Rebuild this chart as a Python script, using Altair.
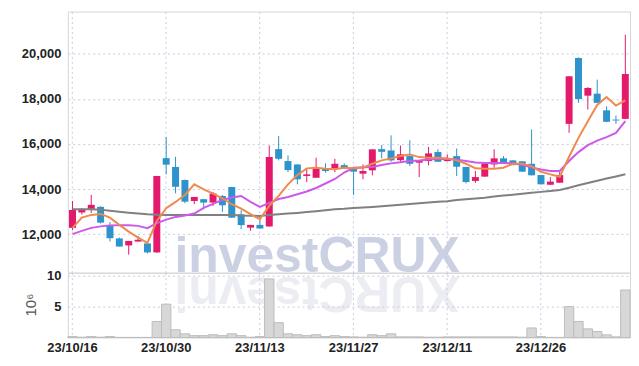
import altair as alt
import pandas as pd

dates = ["23/10/16", "23/10/17", "23/10/18", "23/10/19", "23/10/20", "23/10/23", "23/10/24", "23/10/25", "23/10/26", "23/10/27",
         "23/10/30", "23/10/31", "23/11/01", "23/11/02", "23/11/03", "23/11/06", "23/11/07", "23/11/08", "23/11/09", "23/11/10",
         "23/11/13", "23/11/14", "23/11/15", "23/11/16", "23/11/17", "23/11/20", "23/11/21", "23/11/22", "23/11/23", "23/11/24",
         "23/11/27", "23/11/28", "23/11/29", "23/11/30", "23/12/01", "23/12/04", "23/12/05", "23/12/06", "23/12/07", "23/12/08",
         "23/12/11", "23/12/12", "23/12/13", "23/12/14", "23/12/15", "23/12/18", "23/12/19", "23/12/20", "23/12/21", "23/12/22",
         "23/12/26", "23/12/27", "23/12/28", "24/01/02", "24/01/03", "24/01/04", "24/01/05", "24/01/08", "24/01/09", "24/01/10"]

tick_dates = ["23/10/16", "23/10/30", "23/11/13", "23/11/27", "23/12/11", "23/12/26"]

opens = [12280, 12960, 13120, 13210, 12370, 11810, 11500, 11670, 11590, 11190,
         15370, 14980, 14400, 13470, 13550, 13400, 13690, 14090, 12880, 12290,
         12410, 12340, 15770, 15240, 15090, 14580, 14500, 14920, 14920, 15060,
         14920, 14680, 14830, 15770, 15710, 15280, 15460, 15170, 15240, 15640,
         15240, 15460, 14980, 14360, 14550, 15090, 15360, 15270, 15230, 15120,
         14620, 14190, 14280, 16890, 19810, 18140, 18230, 17490, 17080, 17110]

highs = [13470, 13160, 13740, 13240, 12540, 11850, 11700, 11920, 11620, 14580,
         16310, 15430, 14420, 13650, 13560, 13870, 13740, 14100, 13060, 12410,
         12840, 15930, 16350, 15490, 15100, 14900, 15390, 15140, 15340, 15140,
         14980, 15090, 15760, 15950, 16380, 15930, 16160, 15290, 15870, 15760,
         15540, 15800, 14990, 14800, 15130, 15760, 15460, 15280, 15240, 16640,
         14630, 14530, 14770, 19000, 19840, 18520, 18850, 17670, 17260, 20840]

lows = [12180, 12870, 12940, 12470, 11670, 11450, 11090, 11670, 11140, 11170,
        14650, 13810, 13370, 13330, 13100, 13250, 12990, 12720, 12220, 12150,
        12240, 12330, 15270, 14750, 14210, 14310, 14500, 14720, 14750, 14910,
        13740, 14430, 14610, 15360, 15210, 15210, 15020, 14530, 15050, 15200,
        15230, 14580, 14250, 14270, 14540, 14940, 15110, 15060, 14760, 14600,
        14200, 14180, 14270, 16490, 17820, 17520, 17810, 16970, 16890, 17100]

closes = [13070, 13090, 13300, 12510, 11820, 11450, 11700, 11750, 11190, 14580,
          15080, 14100, 13440, 13650, 13400, 13800, 13280, 12730, 12400, 12410,
          12250, 15420, 15340, 14840, 14430, 14650, 14900, 14800, 15120, 14920,
          14770, 14800, 15760, 15650, 15270, 15540, 15120, 15280, 15580, 15210,
          15360, 14990, 14310, 14530, 15120, 15360, 15120, 15060, 14770, 14610,
          14210, 14330, 14620, 19000, 17990, 18480, 17820, 16980, 17040, 19100]

volumes = [0.15, 0.05, 0.15, 0.05, 0.15, 0.02, 0.02, 0.02, 0.02, 2.6,
           5.4, 1.25, 0.6, 0.3, 0.3, 0.45, 0.3, 0.6, 0.3, 0.05,
           0.15, 9.5, 2.4, 0.6, 0.45, 0.3, 0.45, 0.15, 0.3, 0.15,
           0.1, 0.05, 0.45, 0.3, 0.6, 0.1, 0.1, 0.1, 0.05, 0.05,
           0.1, 0.1, 0.1, 0.1, 0.1, 0.1, 0.1, 0.1, 0.05, 1.55,
           0.15, 0.02, 0.02, 5.0, 2.6, 1.4, 0.97, 0.43, 0.1, 7.7]

ma_short = [12279, 12734, 12853, 12897, 12734, 12411, 12115, 11850, 11616, 12588,
            13149, 13428, 13737, 14210, 13989, 13795, 13591, 13326, 13132, 12884,
            12663, 13251, 13693, 14210, 14621, 14917, 14944, 14900, 14873, 14944,
            14917, 14944, 15121, 15271, 15359, 15461, 15536, 15417, 15386, 15386,
            15359, 15271, 15121, 14917, 14900, 14900, 14944, 15121, 15121, 15019,
            14767, 14652, 14546, 15430, 16270, 17008, 17728, 18082, 17702, 17936]

ma_mid = [12000, 12146, 12279, 12345, 12389, 12398, 12398, 12367, 12265, 12486,
          12645, 12765, 12831, 12911, 13163, 13339, 13516, 13627, 13693, 13428,
          13207, 13384, 13560, 13649, 13768, 13892, 14047, 14246, 14445, 14732,
          14944, 14962, 14975, 15063, 15138, 15183, 15240, 15262, 15306, 15328,
          15342, 15297, 15240, 15174, 15152, 15152, 15152, 15138, 15063, 14962,
          14865, 14798, 14798, 15240, 15638, 15947, 16146, 16301, 16491, 17008]

ma_long = [13105, 13105, 13105, 13087, 13039, 12990, 12950, 12911, 12880, 12862,
           12853, 12853, 12853, 12853, 12853, 12853, 12853, 12853, 12827, 12818,
           12809, 12844, 12884, 12911, 12942, 12981, 13017, 13061, 13101, 13127,
           13163, 13185, 13207, 13238, 13269, 13304, 13339, 13370, 13401, 13437,
           13463, 13516, 13551, 13582, 13618, 13666, 13711, 13750, 13795, 13834,
           13874, 13918, 13958, 14060, 14166, 14268, 14365, 14467, 14559, 14652]

UP = "#e5196b"
DOWN = "#2e93cb"
LABEL_FONT = "Liberation Sans"
LABEL_SIZE = 13
GRID = "#c6cce0"

df = pd.DataFrame({
    "date": dates, "open": opens, "high": highs, "low": lows, "close": closes,
    "volume": volumes, "ma5": ma_short, "ma20": ma_mid, "ma60": ma_long,
})
df["dir"] = ["up" if c >= o else "down" for o, c in zip(opens, closes)]

W = 564
H_PRICE = 262
H_VOL = 65

xscale = alt.Scale(domain=dates, paddingInner=0, paddingOuter=0)

x_price = alt.X("date:O", sort=None, scale=xscale, title=None,
                axis=alt.Axis(values=tick_dates, labels=False, ticks=False, domain=False,
                              grid=True, gridDash=[2, 3], gridColor=GRID, bandPosition=0.5))
x_vol = alt.X("date:O", sort=None, scale=xscale, title=None,
              axis=alt.Axis(values=tick_dates, labelAngle=0, ticks=False, domain=False,
                            grid=True, gridDash=[2, 3], gridColor=GRID, bandPosition=0.5,
                            labelFont=LABEL_FONT, labelFontSize=LABEL_SIZE, labelFontWeight="bold",
                            labelColor="#222", labelPadding=4))

color = alt.Color("dir:N", scale=alt.Scale(domain=["up", "down"], range=[UP, DOWN]), legend=None)

yscale = alt.Scale(domain=[10290, 21870], nice=False, zero=False)
y_axis = alt.Axis(values=[12000, 14000, 16000, 18000, 20000], labelExpr="format(datum.value, ',')",
                  ticks=False, domain=False, gridDash=[2, 3], gridColor=GRID, labelFont=LABEL_FONT,
                  labelFontSize=LABEL_SIZE, labelFontWeight="bold", labelColor="#222", labelPadding=7)

base = alt.Chart(df)

wm = alt.Chart(pd.DataFrame({"t": ["investCRUX"]})).mark_text(
    font="Liberation Sans", fontWeight="bold", fontSize=50, color="#c3c9df",
    align="center", baseline="alphabetic", opacity=0.85
).encode(text="t:N", x=alt.value(250), y=alt.value(261))

letters = ["i", "n", "v", "e", "s", "t", "C", "R", "U", "X"]
advances = [13.9, 30.5, 27.8, 27.8, 27.8, 16.7, 36.1, 36.1, 36.1, 33.4]
refl_layers = []
pos = 250 - sum(advances) / 2
for ch, adv in zip(letters, advances):
    refl_layers.append(
        alt.Chart(pd.DataFrame({"t": [ch]})).mark_text(
            font="Liberation Sans", fontWeight="bold", fontSize=50, color="#dcdfea",
            align="center", baseline="alphabetic", angle=180, opacity=0.55
        ).encode(text="t:N", x=alt.value(pos + adv / 2), y=alt.value(266))
    )
    pos += adv

wicks = base.mark_rule(strokeWidth=1).encode(
    x=x_price,
    y=alt.Y("low:Q", scale=yscale, axis=y_axis, title=None),
    y2="high:Q",
    color=color,
)
bodies = base.mark_bar(size=7).encode(
    x=x_price,
    y=alt.Y("open:Q", scale=yscale, axis=y_axis, title=None),
    y2="close:Q",
    color=color,
)
line_long = base.mark_line(color="#808080", strokeWidth=2).encode(
    x=x_price, y=alt.Y("ma60:Q", scale=yscale, axis=y_axis, title=None))
line_mid = base.mark_line(color="#cc5ae8", strokeWidth=2).encode(
    x=x_price, y=alt.Y("ma20:Q", scale=yscale, axis=y_axis, title=None))
line_short = base.mark_line(color="#ef8a4e", strokeWidth=2).encode(
    x=x_price, y=alt.Y("ma5:Q", scale=yscale, axis=y_axis, title=None))

price = alt.layer(wm, *refl_layers, wicks, bodies, line_long, line_mid, line_short).properties(
    width=W, height=H_PRICE)

vol = base.mark_bar(fill="#d7d7d7", stroke="#bdbdbd", strokeWidth=1).encode(
    x=x_vol,
    y=alt.Y("volume:Q", scale=alt.Scale(domain=[0, 10.5], nice=False),
            axis=alt.Axis(values=[5, 10], ticks=False, domain=False, gridDash=[2, 3],
                          gridColor=GRID, labelFont=LABEL_FONT, labelFontSize=LABEL_SIZE,
                          labelFontWeight="bold", labelColor="#222", labelPadding=7,
                          title="10⁶", titleFont="Liberation Sans", titleFontSize=15,
                          titleFontWeight="normal", titleColor="#555", titleAngle=-90,
                          titleX=-37, titleY=32, titleAlign="center", titleBaseline="middle")),
).properties(width=W, height=H_VOL)

chart = alt.vconcat(price, vol, spacing=0, bounds="flush").properties(
    padding={"left": 12, "top": 2, "right": 0, "bottom": 2}
).configure_view(stroke="#d6d6d6")

chart.save("out.html", embed_options={"renderer": "svg", "actions": False})
